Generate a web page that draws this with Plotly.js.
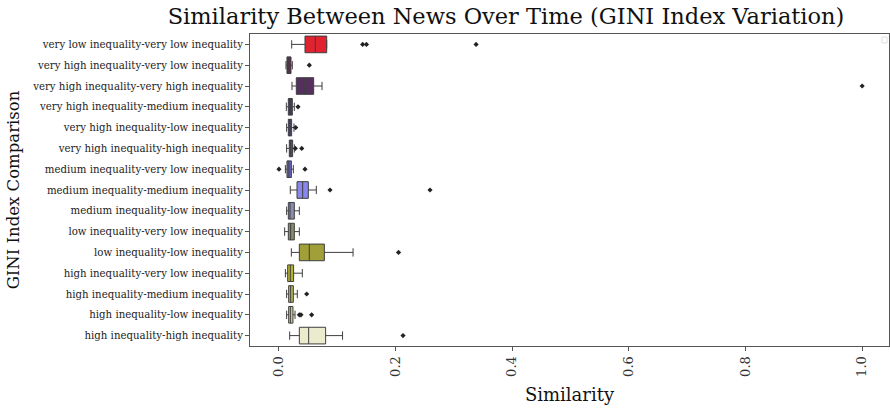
<!DOCTYPE html>
<html>
<head>
<meta charset="utf-8">
<script src="https://cdn.plot.ly/plotly-3.0.1.min.js"></script>
<style>html,body{margin:0;padding:0;background:#fff;}#chart{width:890px;height:411px;}</style>
</head>
<body>
<div id="chart"></div>
<script>
const categories = [
  "very low inequality-very low inequality",
  "very high inequality-very low inequality",
  "very high inequality-very high inequality",
  "very high inequality-medium inequality",
  "very high inequality-low inequality",
  "very high inequality-high inequality",
  "medium inequality-very low inequality",
  "medium inequality-medium inequality",
  "medium inequality-low inequality",
  "low inequality-very low inequality",
  "low inequality-low inequality",
  "high inequality-very low inequality",
  "high inequality-medium inequality",
  "high inequality-low inequality",
  "high inequality-high inequality"
];
const lowerWhisker = [0.0218, 0.012, 0.0223, 0.0126, 0.0131, 0.0131, 0.011, 0.0194, 0.0131, 0.0097, 0.0212, 0.011, 0.0131, 0.0131, 0.0183];
const q1Values     = [0.0446, 0.0137, 0.0297, 0.016, 0.016, 0.0177, 0.0137, 0.0309, 0.016, 0.016, 0.0349, 0.0149, 0.0166, 0.0166, 0.0349];
const medianValues = [0.0623, 0.017, 0.0435, 0.0194, 0.019, 0.020, 0.017, 0.0406, 0.0189, 0.020, 0.052, 0.0194, 0.020, 0.0195, 0.0509];
const q3Values     = [0.0818, 0.0206, 0.0595, 0.0229, 0.0217, 0.0234, 0.0212, 0.0503, 0.0263, 0.0263, 0.0778, 0.0251, 0.0246, 0.024, 0.080];
const upperWhisker = [0.0818, 0.0229, 0.0738, 0.0263, 0.0257, 0.0263, 0.0246, 0.064, 0.0349, 0.0349, 0.127, 0.040, 0.0314, 0.0275, 0.109];
const outliers = [
  [0.1435, 0.150, 0.338],
  [0.052],
  [1.0],
  [0.0326],
  [0.0286],
  [0.028, 0.039],
  [0.0, 0.0446],
  [0.0875, 0.259],
  [],
  [],
  [0.205],
  [],
  [0.0475],
  [0.0349, 0.0377, 0.056],
  [0.2127]
];
const colors = ["#e0232e", "#5e2d4f", "#55305e", "#41397e", "#453f8a", "#4c4898", "#6764c4", "#8888ec", "#8a8cb2", "#8a8a6c", "#a09f38", "#b3b22a", "#b9b84c", "#c6c58c", "#ebebcd"];
const xTickValues = [0, 0.2, 0.4, 0.6, 0.8, 1.0];
const xTickLabels = ['0.0', '0.2', '0.4', '0.6', '0.8', '1.0'];

const traces = [];
categories.forEach((c, i) => {
  traces.push({
    type: 'box', orientation: 'h',
    y: [c], q1: [q1Values[i]], median: [medianValues[i]], q3: [q3Values[i]],
    lowerfence: [lowerWhisker[i]], upperfence: [upperWhisker[i]],
    fillcolor: colors[i], line: {color: '#3f3f3f', width: 1},
    width: 0.8, whiskerwidth: 0.5, boxpoints: false,
    hoverinfo: 'x', showlegend: false
  });
  if (outliers[i].length) {
    traces.push({
      type: 'scatter', mode: 'markers',
      x: outliers[i], y: outliers[i].map(() => c),
      marker: {symbol: 'diamond', size: 4, color: '#222'},
      showlegend: false, hoverinfo: 'x'
    });
  }
});

const layout = {
  width: 890, height: 411,
  margin: {l: 250, r: 1, t: 34, b: 65},
  paper_bgcolor: '#fff', plot_bgcolor: '#fff',
  font: {family: 'DejaVu Serif', color: '#222'},
  title: {text: 'Similarity Between News Over Time (GINI Index Variation)',
    font: {size: 22.5, family: 'DejaVu Serif', color: '#111'},
    xref: 'paper', x: (506 - 250) / 639, xanchor: 'center',
    yref: 'container', y: 1 - 16 / 411, yanchor: 'middle'},
  boxmode: 'overlay',
  xaxis: {
    range: [-0.0497, 1.046], tickvals: xTickValues, ticktext: xTickLabels,
    tickangle: -90, ticks: 'outside', ticklen: 4, tickcolor: '#555', tickfont: {size: 13, family: 'DejaVu Serif', color: '#333'},
    showgrid: false, zeroline: false, showline: true, linecolor: '#555', linewidth: 1, mirror: true,
    title: {text: 'Similarity', font: {size: 18, family: 'DejaVu Serif', color: '#111'}, standoff: 12}
  },
  yaxis: {
    type: 'category', categoryorder: 'array', categoryarray: categories,
    range: [14.5, -0.5], ticks: 'outside', ticklen: 4, tickcolor: '#555',
    tickfont: {size: 10.2, family: 'DejaVu Serif', color: '#222'},
    showgrid: false, zeroline: false, showline: true, linecolor: '#555', linewidth: 1, mirror: true,
    title: {text: 'GINI Index Comparison', font: {size: 16.5, family: 'DejaVu Serif', color: '#111'}, standoff: 8}
  },
  shapes: [{type: 'rect', xref: 'paper', yref: 'paper',
    x0: (882 - 250) / 639, x1: (887 - 250) / 639, y0: 1 - (37 - 34) / 312, y1: 1 - (43 - 34) / 312,
    line: {color: '#dddddd', width: 1}, fillcolor: 'rgba(255,255,255,0)'}]
};
Plotly.newPlot('chart', traces, layout, {displayModeBar: false, staticPlot: true});
</script>
</body>
</html>
